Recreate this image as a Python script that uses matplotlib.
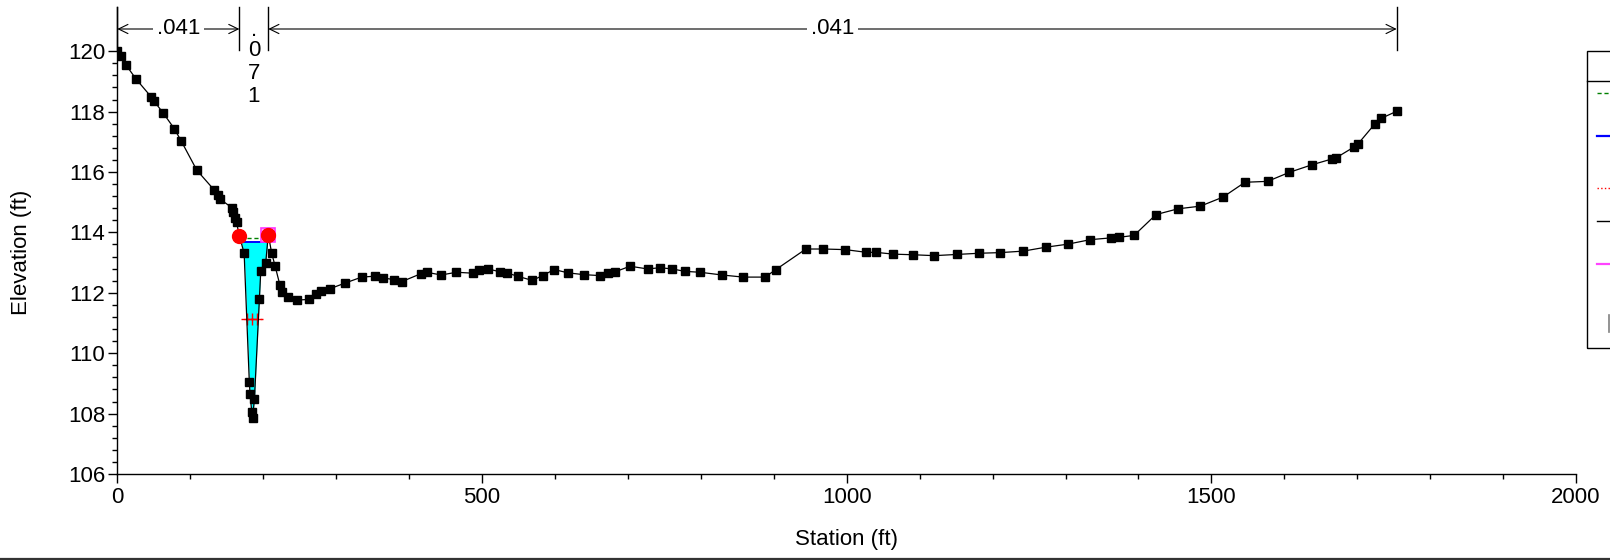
import numpy as np
import matplotlib
matplotlib.use("Agg")
import matplotlib.pyplot as plt
from matplotlib.lines import Line2D
from matplotlib.patches import Rectangle
from matplotlib.ticker import FixedLocator, NullFormatter

plt.rcParams['font.family'] = ['Liberation Sans', 'DejaVu Sans']
FS = 16

# ---------------- data ----------------
station = [0, 5, 12, 26, 46, 50, 63, 78, 88, 109, 133, 138, 141, 157, 159, 161.5, 163.5,
           167.4, 173.9, 181, 182, 184.4, 185.5, 188, 194.8, 196.7, 203.5, 207,
           211.7, 216.3, 223, 225.4, 234.5, 246, 263, 272, 279, 291, 312, 335, 353, 364,
           379, 390, 416, 424, 444, 465, 487, 496, 508, 524, 534, 550, 569, 583, 599,
           618, 640, 662, 673, 683, 703, 727, 744, 761, 778, 799, 829, 858, 888, 903,
           944, 968, 998, 1027, 1040, 1064, 1091, 1120, 1151, 1182, 1210, 1242, 1273,
           1303, 1334, 1363, 1374, 1394, 1424, 1454, 1485, 1516, 1546, 1577, 1607,
           1638, 1665, 1671, 1695, 1701, 1724, 1733, 1754]
elevation = [120.0, 119.85, 119.54, 119.07, 118.5, 118.36, 117.95, 117.44, 117.01, 116.06,
             115.40, 115.24, 115.10, 114.82, 114.68, 114.49, 114.33,
             113.88, 113.31, 109.05, 108.65, 108.04, 107.87, 108.48, 111.79, 112.73, 113.0, 113.92,
             113.31, 112.89, 112.25, 112.03, 111.85, 111.76, 111.78, 111.96, 112.05, 112.13,
             112.32, 112.52, 112.55, 112.49, 112.44, 112.37, 112.63, 112.68, 112.59, 112.68,
             112.65, 112.74, 112.79, 112.70, 112.66, 112.54, 112.41, 112.57, 112.77, 112.66,
             112.60, 112.57, 112.65, 112.70, 112.88, 112.79, 112.83, 112.79, 112.71, 112.68,
             112.59, 112.52, 112.52, 112.77, 113.45, 113.45, 113.43, 113.34, 113.34, 113.28,
             113.26, 113.23, 113.27, 113.31, 113.33, 113.38, 113.51, 113.61, 113.76, 113.82,
             113.84, 113.90, 114.59, 114.78, 114.87, 115.17, 115.66, 115.69, 115.99, 116.24,
             116.43, 116.47, 116.82, 116.93, 117.59, 117.78, 118.01]

bank_stations = [167.4, 207.0]
bank_elevations = [113.88, 113.92]
levee_station = [207.0]
levee_elevation = [113.92]

ws_elev = 113.69          # WS PF 1
eg_elev = 113.80          # EG PF 1
eg_stations = [168.0, 207.0]
crit_elev = 111.13        # Crit PF 1
crit_line_stations = [173.5, 198.0]
crit_mark_stations = [177.4, 185.0, 191.9]

n_values = [".041", ".071", ".041"]
n_breaks = [0, 167.4, 207.0, 1754]

x_major = [0, 500, 1000, 1500, 2000]
y_major = [106, 108, 110, 112, 114, 116, 118, 120]

# ---------------- figure ----------------
W, H = 1610, 560
fig = plt.figure(figsize=(W / 100, H / 100), dpi=100)
ax_l, ax_r, ax_b, ax_t = 117.3, 1576.1, 474.0, 7.0
ax = fig.add_axes([ax_l / W, 1 - ax_b / H, (ax_r - ax_l) / W, (ax_b - ax_t) / H])
ax.set_xlim(0, 2000)
ax.set_ylim(106, 106 + (ax_b - ax_t) / 30.2)

st = np.array(station, float)
el = np.array(elevation, float)

# water fill in channel
xs = np.linspace(bank_stations[0], bank_stations[1], 800)
g = np.interp(xs, st, el)
ax.fill_between(xs, g, ws_elev, where=g < ws_elev, interpolate=True,
                color='#00ffff', lw=0, zorder=1)
wet = xs[g < ws_elev]
ax.plot([wet.min(), wet.max()], [ws_elev, ws_elev], color='blue', lw=1.4, zorder=2)
ax.plot(eg_stations, [eg_elev, eg_elev], color='green', lw=1.0, ls=(0, (3, 2)), zorder=3)
ax.plot(crit_line_stations, [crit_elev, crit_elev], color='red', lw=0.9, ls=':', zorder=3)
ax.plot(crit_mark_stations, [crit_elev] * 3, ls='none', marker='+', color='red',
        ms=9, mew=1.0, zorder=3)

# ground
ax.plot(st, el, color='black', lw=0.9, marker='s', ms=6.2, mfc='black', mec='black', zorder=4)

# levee + bank stations
ax.plot(levee_station, levee_elevation, ls='none', marker='s', ms=10.5,
        mfc='#ffb0ff', mec='#ff33ff', mew=1.2, zorder=5)
ax.plot(bank_stations, bank_elevations, ls='none', marker='o', ms=10,
        mfc='red', mec='red', zorder=6)

# axes styling
for s in ['top', 'right']:
    ax.spines[s].set_visible(False)
for s in ['left', 'bottom']:
    ax.spines[s].set_linewidth(1.0)
ax.xaxis.set_major_locator(FixedLocator(x_major))
ax.xaxis.set_minor_locator(FixedLocator(np.arange(0, 2001, 100)))
ax.yaxis.set_major_locator(FixedLocator(y_major))
ax.yaxis.set_minor_locator(FixedLocator(np.arange(106, 120.01, 0.4)))
ax.xaxis.set_minor_formatter(NullFormatter())
ax.yaxis.set_minor_formatter(NullFormatter())
ax.tick_params(which='major', length=6.5, width=1.0, labelsize=FS, direction='out')
ax.tick_params(which='minor', length=3.4, width=1.0, direction='out')
ax.tick_params(axis='x', which='major', pad=3)
ax.tick_params(axis='y', which='major', pad=2)
ax.set_xticklabels([str(v) for v in x_major])
ax.set_yticklabels([str(v) for v in y_major])

fig.text(21 / W, 1 - 252 / H, "Elevation (ft)", rotation=90, ha='center', va='center', fontsize=FS)
fig.text(846.7 / W, 1 - 540 / H, "Station (ft)", ha='center', va='center', fontsize=FS)

# Manning's n annotations
px2el = lambda ypx: 106 + (ax_b - ypx) / 30.2
bar_top, bar_bot, arr_y = px2el(7), px2el(50), px2el(29)
for b in n_breaks:
    ax.plot([b, b], [bar_bot, bar_top], color='black', lw=1.0, clip_on=False, zorder=7)
for i, lab in enumerate(n_values):
    a, b = n_breaks[i], n_breaks[i + 1]
    mid = (a + b) / 2
    if b - a > 100:
        ax.annotate('', xy=(a, arr_y), xytext=(b, arr_y),
                    arrowprops=dict(arrowstyle='<->,head_length=0.45,head_width=0.22',
                                    lw=0.8, color='black', shrinkA=0, shrinkB=0,
                                    mutation_scale=15), zorder=7)
        ax.text(mid, arr_y, lab, ha='center', va='center', fontsize=FS, zorder=8,
                bbox=dict(facecolor='white', edgecolor='none', pad=2.5))
    else:
        for k, ch in enumerate(lab):
            ypx = 51 + 22.5 * (k - 1) if k > 0 else 31
            ax.text(mid, px2el(ypx), ch, ha='center', va='center',
                    fontsize=FS, zorder=8)

# legend box (cut off by the right edge)
def fx(x):
    return x / W
def fy(y):
    return 1 - y / H
fig.add_artist(Rectangle((fx(1587.3), fy(348)), fx(40), (348 - 50.7) / H,
                         transform=fig.transFigure, fill=False, ec='black', lw=1.0))
fig.add_artist(Line2D([fx(1587.3), fx(1630)], [fy(80.7), fy(80.7)], transform=fig.transFigure,
                      color='black', lw=1.0))
leg_lines = [(92.7, 'green', (0, (3, 2)), 1.0),
             (135.7, 'blue', '-', 1.6),
             (187.7, 'red', ':', 1.0),
             (221.0, 'black', '-', 1.0),
             (263.7, '#ff44ff', '-', 1.6)]
for y, c, ls, lw in leg_lines:
    fig.add_artist(Line2D([fx(1597), fx(1625)], [fy(y), fy(y)], transform=fig.transFigure,
                          color=c, ls=ls, lw=lw))
fig.add_artist(Line2D([fx(1609.3), fx(1609.3)], [fy(315), fy(332)], transform=fig.transFigure,
                      color='gray', lw=1.2))

# bottom border
fig.add_artist(Line2D([0, 1], [fy(558.5), fy(558.5)], transform=fig.transFigure,
                      color='#333333', lw=1.6))

fig.savefig("out.png", dpi=100)
